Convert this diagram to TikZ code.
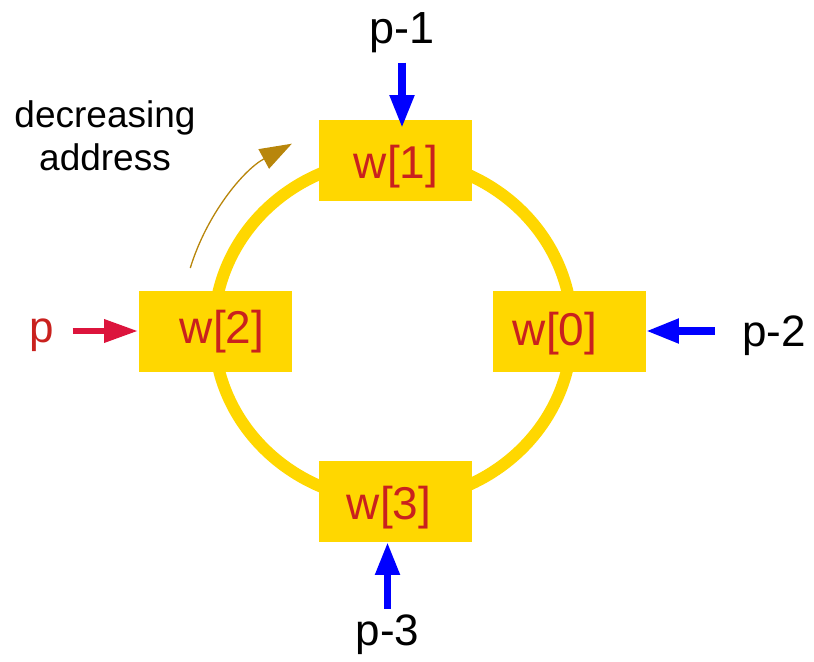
\documentclass[tikz,border=0pt]{standalone}
\usepackage{fontspec}
\setmainfont{Liberation Sans}
\usetikzlibrary{arrows.meta,calc}
\definecolor{ringgold}{RGB}{255,215,0}
\definecolor{wordred}{RGB}{201,33,30}
\definecolor{ptrred}{RGB}{220,20,60}
\definecolor{dirbrown}{RGB}{184,134,11}
\tikzset{
    every node/.append style={inner sep=0pt},
    cell/.style={fill=ringgold, minimum width=76.5pt, minimum height=40.5pt},
    cellname/.style={anchor=base, text=wordred, font=\fontsize{23}{27}\selectfont},
    ptrname/.style={anchor=base, font=\fontsize{22}{26}\selectfont},
    inarrow/.style={-{Triangle[length=16.5pt,width=11.5pt]}, line width=3.8pt, blue},
    ptrarrow/.style={-{Triangle[length=17pt,width=11pt]}, line width=3.2pt, ptrred}}

\begin{document}
\begin{tikzpicture}[x=0.5pt,y=0.5pt]
    \useasboundingbox (0,0) rectangle (814,661);
    \coordinate (c) at (393,331);

    % ring buffer
    \draw[ringgold, line width=6pt] (c) ellipse [x radius=179, y radius=171];
    \node[cell] (w1) at (395,501) {};
    \node[cell] (w2) at (215,330) {};
    \node[cell] (w0) at (569,330) {};
    \node[cell] (w3) at (395,160) {};
    \node[cellname] (t1) at (396,483) {w[1]};
    \node[cellname] (t2) at (222,318) {w[2]};
    \node[cellname] (t0) at (555,316) {w[0]};
    \node[cellname] (t3) at (389,142) {w[3]};

    % pointers
    \node[ptrname, font=\fontsize{22.5}{26}\selectfont] (lp1) at (402,618) {p-1};
    \node[ptrname] (lp2) at (774,315) {p-2};
    \node[ptrname] (lp3) at (387.5,16) {p-3};
    \node[ptrname, text=wordred] (lp) at (42,319) {p};

    \draw[inarrow, shorten <=5pt, shorten >=-4.5pt] (lp1.south) -- (lp1.south |- w1.north);
    \draw[inarrow, shorten <=13.5pt] (lp2.west |- w0.east) -- (w0.east);
    \draw[inarrow, shorten <=2.5pt] (lp3.north) -- (lp3.north |- w3.south);
    \draw[ptrarrow, shorten <=9pt] (lp.east |- w2.west) -- (w2.west);

    % direction
    \node[font=\fontsize{18.5}{21.5}\selectfont, align=center] (dir) at (105,525) {decreasing\\address};
    \draw[dirbrown, line width=0.65pt, -{Triangle[length=16pt,width=11pt]}]
        ($(c)+(163:212)$) arc [start angle=163, end angle=118.5, radius=212];
\end{tikzpicture}
\end{document}
